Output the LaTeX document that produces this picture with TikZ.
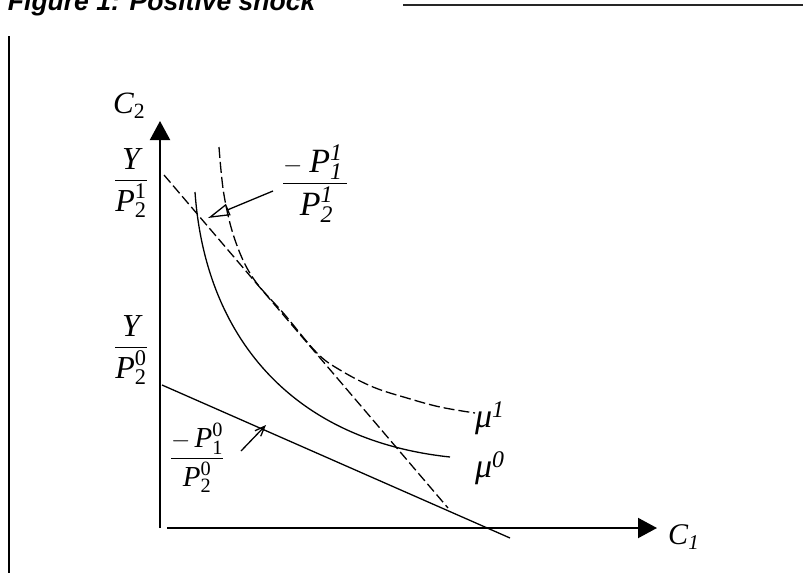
\documentclass[tikz,border=0pt]{standalone}
\usepackage{amsmath}
\usepackage{fontspec}
\setmainfont{Liberation Serif}
\newfontfamily\titlefont{Liberation Sans}
\usetikzlibrary{arrows.meta}

\begin{document}
\begin{tikzpicture}[
  x=1pt, y=-1pt,
  axis/.style={
    line width=2pt,
    -{Triangle[length=19pt,width=20pt]}
  },
  frame/.style={line width=1.5pt},
  budget/.style={line width=1.3pt},
  newbudget/.style={budget, dash pattern=on 10pt off 4pt},
  indiff/.style={line width=1.3pt},
  newindiff/.style={indiff, dash pattern=on 11pt off 4pt},
  pointer/.style={
    line width=1.3pt,
    -{Triangle[open,length=22pt,width=12pt]}
  },
  pointerb/.style={
    line width=1.3pt,
    -{Straight Barb[length=10pt,width=8pt]}
  },
  lbl/.style={inner sep=0pt, outer sep=0pt},
  fracs/.style={lbl, anchor=base, font=\fontsize{32}{38}\selectfont},
  fracl/.style={lbl, anchor=base, font=\fontsize{34}{40}\selectfont},
  fracm/.style={lbl, anchor=base, font=\fontsize{29}{34}\selectfont},
  axlbl/.style={lbl, anchor=base west, font=\fontsize{30}{36}\selectfont}
]

\useasboundingbox (0,0) rectangle (803,573);

\node[lbl, anchor=base west,
  font=\titlefont\bfseries\itshape\fontsize{26.5}{30}\selectfont]
  (title) at (8,10) {Figure 1: Positive shock};

\draw[line width=2.5pt, black!85] (403,5) -- (803,5);
\draw[frame] (9,36) -- (9,573);

\coordinate (ybot) at (160,528);
\coordinate (ytip) at (160,121);
\coordinate (xbeg) at (167,528);
\coordinate (xtip) at (657,528);

\draw[axis] (ybot) -- (ytip);
\draw[axis] (xbeg) -- (xtip);

\coordinate (b0a) at (162,385);
\coordinate (b0b) at (510,538);
\coordinate (b1a) at (164,175);
\coordinate (b1b) at (448,508);

\draw[budget] (b0a) -- (b0b);
\draw[newbudget] (b1a) -- (b1b);

\draw[indiff] (195,192)
  .. controls (205,335) and (290,440) .. (450,457);

\draw[newindiff] plot[smooth, tension=0.6] coordinates {
  (219,147) (224,195) (235,240) (253,278) (285,315) (317,353)
  (340,370) (373,387) (407,398) (440,407) (475,413)};

\node[lbl, anchor=base west, font=\fontsize{31}{36}\selectfont]
  (c2) at (113,113) {\textit{C}$_{\textup{2}}$};

\node[axlbl] (c1) at (668,544) {\textit{C}$_{\textit{1}}$};

\node[fracs] (yp1) at (131,186.5)
  {$\dfrac{\textit{Y}}{\textit{P}^{\textup{1}}_{\textup{2}}}$};

\node[fracs] (yp0) at (131,353.5)
  {$\dfrac{\textit{Y}}{\textit{P}^{\textup{0}}_{\textup{2}}}$};

\node[fracl] (slope1) at (315,189.5)
  {$\dfrac{-\;\textit{P}^{\textit{1}}_{\textit{1}}\,}{\;\textit{P}^{\textit{1}}_{\textit{2}}\,}$};

\node[fracm] (slope0) at (197,464.5)
  {$\dfrac{-\,\textit{P}^{\textup{0}}_{\textup{1}}}{\textit{P}^{\textup{0}}_{\textup{2}}}$};

\node[axlbl, font=\fontsize{34}{40}\selectfont] (mu1) at (475,427)
  {\textit{μ}$^{\textit{1}}$};

\node[axlbl, font=\fontsize{34}{40}\selectfont] (mu0) at (475,477)
  {\textit{μ}$^{\textit{0}}$};

\coordinate (p1from) at (273,191);
\coordinate (p1to) at (208,218);
\coordinate (p0from) at (241,451);
\coordinate (p0to) at (266,425);

\draw[pointer] (p1from) -- (p1to);
\draw[pointerb] (p0from) -- (p0to);

\end{tikzpicture}
\end{document}
